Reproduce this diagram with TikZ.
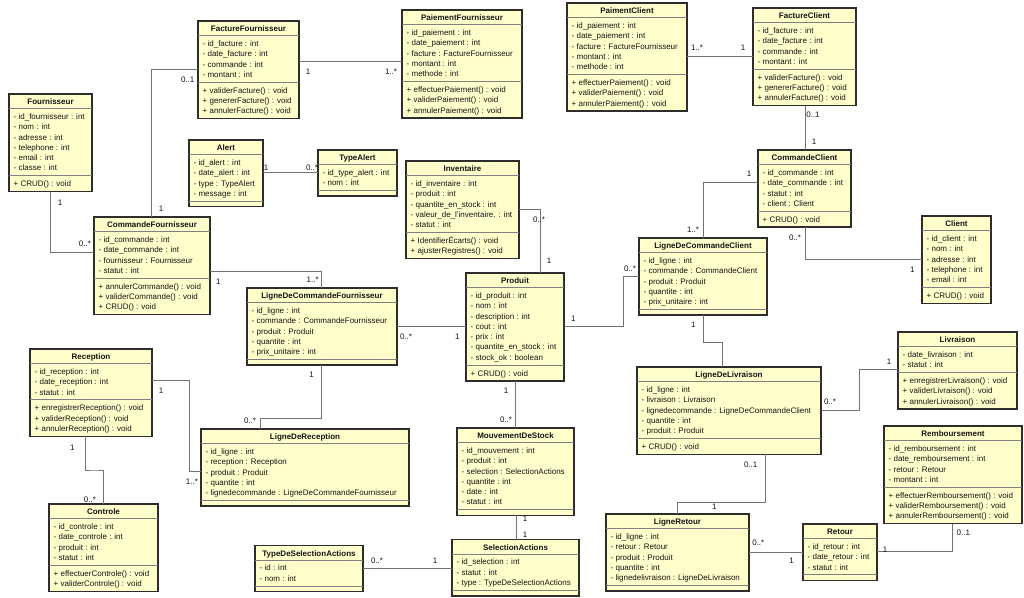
\documentclass[tikz,border=0pt]{standalone}
\usepackage{fontspec}
\setmainfont{Liberation Sans}
\usetikzlibrary{fit}
\definecolor{boxf}{RGB}{255,255,204}
\definecolor{boxc}{RGB}{45,45,45}
\definecolor{sepc}{RGB}{128,128,128}
\definecolor{connc}{RGB}{115,115,115}
\definecolor{txtc}{RGB}{20,20,20}
% #1 name #2 x1 #3 y1 #4 x2 #5 title #6 n attrs #7 attrs #8 n methods #9 methods
\newcommand\umlclass[9]{%
  \pgfmathsetmacro\clsA{#3+14.5}%
  \pgfmathsetmacro\clsB{\clsA+#6*10.3+5.5}%
  \pgfmathsetmacro\clsC{\clsB+#8*10.3+5.5}%
  \node[umlbox, fit={(#2,#3) (#4,\clsC)}] (#1) {};
  \node[umltitle] (#1-t) at ({(#2+#4)/2},{#3+10.9}) {#5};
  \draw[umlsep] (#2,\clsA) -- (#4,\clsA);
  \draw[umlsep] (#2,\clsB) -- (#4,\clsB);
  \foreach \ctxt [count=\ci] in {#7} {\node[umltext] (#1-a\ci) at ({#2+4.5},{\clsA+10.9+(\ci-1)*10.3}) {\ctxt};}
  \ifnum#8>0
  \foreach \ctxt [count=\ci] in {#9} {\node[umltext] (#1-m\ci) at ({#2+4.5},{\clsB+10.9+(\ci-1)*10.3}) {\ctxt};}
  \fi
}
\newcommand\mlab[4]{\node[mult] (#1) at (#2,#3) {#4};}
\begin{document}
\begin{tikzpicture}[x=1pt,y=-1pt,
  umlbox/.style={rectangle, draw=boxc, line width=1.3pt, fill=boxf, inner sep=0pt, outer sep=0pt},
  umlsep/.style={draw=sepc, line width=0.9pt},
  umltitle/.style={font=\fontsize{8}{10}\selectfont\bfseries, text=txtc, inner sep=0pt, anchor=base},
  umltext/.style={font=\fontsize{8}{10}\selectfont, text=txtc, inner sep=0pt, anchor=base west},
  conn/.style={draw=connc, line width=0.9pt},
  mult/.style={font=\fontsize{8}{10}\selectfont, text=txtc, inner sep=0pt}]
\fill[white] (0,0) rectangle (1024,597);
\useasboundingbox (0,0) rectangle (1024,597);

\umlclass{fo}{9}{94}{92}{Fournisseur}{6}{{- id\_fournisseur : int},{- nom : int},{- adresse : int},{- telephone : int},{- email : int},{- classe : int}}{1}{{+ CRUD() : void}}
\umlclass{ff}{198}{21}{299}{FactureFournisseur}{4}{{- id\_facture : int},{- date\_facture : int},{- commande : int},{- montant : int}}{3}{{+ validerFacture() : void},{+ genererFacture() : void},{+ annulerFacture() : void}}
\umlclass{pf}{402}{10}{522}{PaiementFournisseur}{5}{{- id\_paiement : int},{- date\_paiement : int},{- facture : FactureFournisseur},{- montant : int},{- methode : int}}{3}{{+ effectuerPaiement() : void},{+ validerPaiement() : void},{+ annulerPaiement() : void}}
\umlclass{pc}{567}{3}{687}{PaimentClient}{5}{{- id\_paiement : int},{- date\_paiement : int},{- facture : FactureFournisseur},{- montant : int},{- methode : int}}{3}{{+ effectuerPaiement() : void},{+ validerPaiement() : void},{+ annulerPaiement() : void}}
\umlclass{fc}{753}{8}{856}{FactureClient}{4}{{- id\_facture : int},{- date\_facture : int},{- commande : int},{- montant : int}}{3}{{+ validerFacture() : void},{+ genererFacture() : void},{+ annulerFacture() : void}}
\umlclass{al}{189}{140}{263}{Alert}{4}{{- id\_alert : int},{- date\_alert : int},{- type : TypeAlert},{- message : int}}{0}{}
\umlclass{ta}{318}{150}{397}{TypeAlert}{2}{{- id\_type\_alert : int},{- nom : int}}{0}{}
\umlclass{inv}{406}{161}{519}{Inventaire}{5}{{- id\_inventaire : int},{- produit : int},{- quantite\_en\_stock : int},{- valeur\_de\_l'inventaire. : int},{- statut : int}}{2}{{+ IdentifierÉcarts() : void},{+ ajusterRegistres() : void}}
\umlclass{cc}{758}{150}{851}{CommandeClient}{4}{{- id\_commande : int},{- date\_commande : int},{- statut : int},{- client : Client}}{1}{{+ CRUD() : void}}
\umlclass{cl}{922}{216}{991}{Client}{5}{{- id\_client : int},{- nom : int},{- adresse : int},{- telephone : int},{- email : int}}{1}{{+ CRUD() : void}}
\umlclass{cf}{94}{217}{210}{CommandeFournisseur}{4}{{- id\_commande : int},{- date\_commande : int},{- fournisseur : Fournisseur},{- statut : int}}{3}{{+ annulerCommande() : void},{+ validerCommande() : void},{+ CRUD() : void}}
\umlclass{ldcf}{247}{288}{397}{LigneDeCommandeFournisseur}{5}{{- id\_ligne : int},{- commande : CommandeFournisseur},{- produit : Produit},{- quantite : int},{- prix\_unitaire : int}}{0}{}
\umlclass{pr}{466}{273}{564}{Produit}{7}{{- id\_produit : int},{- nom : int},{- description : int},{- cout : int},{- prix : int},{- quantite\_en\_stock : int},{- stock\_ok : boolean}}{1}{{+ CRUD() : void}}
\umlclass{ldcc}{639}{238}{767}{LigneDeCommandeClient}{5}{{- id\_ligne : int},{- commande : CommandeClient},{- produit : Produit},{- quantite : int},{- prix\_unitaire : int}}{0}{}
\umlclass{re}{30}{349}{152}{Reception}{3}{{- id\_reception : int},{- date\_reception : int},{- statut : int}}{3}{{+ enregistrerReception() : void},{+ validerReception() : void},{+ annulerReception() : void}}
\umlclass{ldr}{201}{429}{409}{LigneDeReception}{5}{{- id\_ligne : int},{- reception : Reception},{- produit : Produit},{- quantite : int},{- lignedecommande : LigneDeCommandeFournisseur}}{0}{}
\umlclass{co}{49}{504}{158}{Controle}{4}{{- id\_controle : int},{- date\_controle : int},{- produit : int},{- statut : int}}{2}{{+ effectuerControle() : void},{+ validerControle() : void}}
\umlclass{mds}{457}{428}{574}{MouvementDeStock}{6}{{- id\_mouvement : int},{- produit : int},{- selection : SelectionActions},{- quantite : int},{- date : int},{- statut : int}}{0}{}
\umlclass{sa}{452}{539.5}{579}{SelectionActions}{3}{{- id\_selection : int},{- statut : int},{- type : TypeDeSelectionActions}}{0}{}
\umlclass{tdsa}{255}{545.5}{363}{TypeDeSelectionActions}{2}{{- id : int},{- nom : int}}{0}{}
\umlclass{ldl}{637}{367}{821}{LigneDeLivraison}{5}{{- id\_ligne : int},{- livraison : Livraison},{- lignedecommande : LigneDeCommandeClient},{- quantite : int},{- produit : Produit}}{1}{{+ CRUD() : void}}
\umlclass{li}{898}{332}{1017}{Livraison}{2}{{- date\_livraison : int},{- statut : int}}{3}{{+ enregistrerLivraison() : void},{+ validerLivraison() : void},{+ annulerLivraison() : void}}
\umlclass{rb}{884}{426}{1022}{Remboursement}{4}{{- id\_remboursement : int},{- date\_remboursement : int},{- retour : Retour},{- montant : int}}{3}{{+ effectuerRemboursement() : void},{+ validerRemboursement() : void},{+ annulerRemboursement() : void}}
\umlclass{lr}{606}{514}{749}{LigneRetour}{5}{{- id\_ligne : int},{- retour : Retour},{- produit : Produit},{- quantite : int},{- lignedelivraison : LigneDeLivraison}}{0}{}
\umlclass{rt}{803}{524}{877}{Retour}{3}{{- id\_retour : int},{- date\_retour : int},{- statut : int}}{0}{}

% connectors
\draw[conn] (ff.east |- 0,61) -- (pf.west |- 0,61);
\draw[conn] (ff.west |- 0,69.3) -| (cf.north -| 151.7,0);
\draw[conn] (fo.south -| 50.7,0) |- (cf.west |- 0,252.3);
\draw[conn] (al.east |- 0,172.7) -- (ta.west |- 0,172.7);
\draw[conn] (pc.east |- 0,56) -- (fc.west |- 0,56);
\draw[conn] (fc.south -| 805,0) -- (cc.north -| 805,0);
\draw[conn] (cc.west |- 0,182.3) -| (ldcc.north -| 703.3,0);
\draw[conn] (cc.south -| 805,0) |- (cl.west |- 0,259.3);
\draw[conn] (inv.east |- 0,209) -| (pr.north -| 540,0);
\draw[conn] (cf.east |- 0,271.7) -| (ldcf.north -| 321.7,0);
\draw[conn] (ldcf.east |- 0,326.7) -- (pr.west |- 0,326.7);
\draw[conn] (pr.east |- 0,326.7) -| (623.3,300) |- (ldcc.west |- 0,276.7);
\draw[conn] (ldcc.south -| 703.3,0) |- (712,342.7) -| (ldl.north -| 722.3,0);
\draw[conn] (ldcf.south -| 321,0) |- (290,418.3) -| (ldr.north -| 260,0);
\draw[conn] (re.east |- 0,380.7) -| (189.3,420) |- (ldr.west |- 0,471.7);
\draw[conn] (re.south -| 85,0) |- (94,470) -| (co.north -| 103.5,0);
\draw[conn] (pr.south -| 515.7,0) -- (mds.north -| 515.7,0);
\draw[conn] (mds.south -| 516.3,0) -- (sa.north -| 516.3,0);
\draw[conn] (tdsa.east |- 0,568.7) -- (sa.west |- 0,568.7);
\draw[conn] (ldl.east |- 0,410) -| (859.3,390) |- (li.west |- 0,369.3);
\draw[conn] (ldl.south -| 765,0) |- (720,502.7) -| (lr.north -| 677.3,0);
\draw[conn] (lr.east |- 0,552) -- (rt.west |- 0,552);
\draw[conn] (rt.east |- 0,551.7) -| (rb.south -| 952.3,0);

% multiplicities
\mlab{m1}{308}{71.7}{1}
\mlab{m2}{391}{71.7}{1..*}
\mlab{m3}{187.7}{80}{0..1}
\mlab{m4}{161}{208.3}{1}
\mlab{m5}{60}{203}{1}
\mlab{m6}{85}{244}{0..*}
\mlab{m7}{266}{168}{1}
\mlab{m8}{312}{168}{0..*}
\mlab{m9}{697}{47.7}{1..*}
\mlab{m10}{743}{47.7}{1}
\mlab{m11}{813}{115}{0..1}
\mlab{m12}{814}{142}{1}
\mlab{m13}{749}{174}{1}
\mlab{m14}{693}{229.3}{1..*}
\mlab{m15}{795}{237.3}{0..*}
\mlab{m16}{912.3}{270}{1}
\mlab{m17}{539}{219.3}{0..*}
\mlab{m18}{549}{261}{1}
\mlab{m19}{218.3}{281.7}{1}
\mlab{m20}{312.7}{279.3}{1..*}
\mlab{m21}{406}{336.7}{0..*}
\mlab{m22}{457.3}{336.7}{1}
\mlab{m23}{573.3}{318.3}{1}
\mlab{m24}{630}{268.3}{0..*}
\mlab{m25}{693.3}{325}{1}
\mlab{m26}{311.7}{375}{1}
\mlab{m27}{250}{420.7}{0..*}
\mlab{m28}{161}{390.7}{1}
\mlab{m29}{192}{481.7}{1..*}
\mlab{m30}{72.3}{447.7}{1}
\mlab{m31}{90}{499.3}{0..*}
\mlab{m32}{506}{390.7}{1}
\mlab{m33}{506}{419.3}{0..*}
\mlab{m34}{525}{519}{1}
\mlab{m35}{525}{534.3}{1}
\mlab{m36}{377}{561}{0..*}
\mlab{m37}{435}{561}{1}
\mlab{m38}{830}{401.7}{0..*}
\mlab{m39}{889}{361.7}{1}
\mlab{m40}{750.7}{465}{0..1}
\mlab{m41}{714.3}{506.7}{1}
\mlab{m42}{758.3}{542.7}{0..*}
\mlab{m43}{791.7}{561}{1}
\mlab{m44}{885}{549.3}{1}
\mlab{m45}{963.3}{532.7}{0..1}
\end{tikzpicture}
\end{document}
